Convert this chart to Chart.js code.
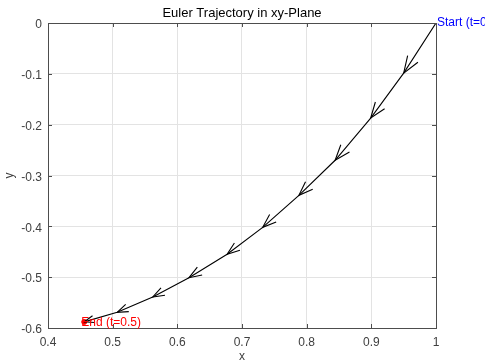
<!DOCTYPE html>
<html>
<head>
<meta charset="utf-8">
<script src="https://cdn.jsdelivr.net/npm/chart.js@4/dist/chart.umd.min.js"></script>
<style>
html,body{margin:0;padding:0;background:#fff;}
canvas{display:block;}
</style>
</head>
<body>
<canvas id="c" width="485" height="363"></canvas>
<script>
// Euler trajectory points (t = 0 .. 0.5, step 0.05)
const tValues = [0, 0.05, 0.1, 0.15, 0.2, 0.25, 0.3, 0.35, 0.4, 0.45, 0.5];
const xValues = [1.0, 0.950, 0.899, 0.844, 0.788, 0.732, 0.677, 0.618, 0.562, 0.507, 0.456];
const yValues = [0.0, -0.0985, -0.187, -0.270, -0.339, -0.402, -0.455, -0.501, -0.539, -0.569, -0.588];
const xTicks = [0.4, 0.5, 0.6, 0.7, 0.8, 0.9, 1];
const yTicks = [-0.6, -0.5, -0.4, -0.3, -0.2, -0.1, 0];
const titleText = 'Euler Trajectory in xy-Plane';
const xLabel = 'x';
const yLabel = 'y';
const startLabel = 'Start (t=0)';
const endLabel = 'End (t=0.5)';

const FONT = '"Liberation Sans", Arial, Helvetica, sans-serif';
const AXIS_COLOR = '#4d4d4d';
const TEXT_COLOR = '#404040';

const path = xValues.map((x, i) => ({x: x, y: yValues[i]}));
const last = path.length - 1;
const fmt = v => String(Number(Number(v).toFixed(2)));

const decor = {
  id: 'decor',
  afterDatasetsDraw(chart) {
    const ctx = chart.ctx;
    const xs = chart.scales.x, ys = chart.scales.y;
    ctx.save();
    ctx.strokeStyle = '#000';
    ctx.lineWidth = 1.1;
    for (let i = 0; i < last; i++) {
      const x0 = xs.getPixelForValue(xValues[i]), y0 = ys.getPixelForValue(yValues[i]);
      const x1 = xs.getPixelForValue(xValues[i + 1]), y1 = ys.getPixelForValue(yValues[i + 1]);
      const dx = x0 - x1, dy = y0 - y1;
      const len = Math.hypot(dx, dy);
      const ang = Math.atan2(dy, dx);
      const hl = 0.3 * len, spread = 20 * Math.PI / 180;
      ctx.beginPath();
      ctx.moveTo(x1 + hl * Math.cos(ang + spread), y1 + hl * Math.sin(ang + spread));
      ctx.lineTo(x1, y1);
      ctx.lineTo(x1 + hl * Math.cos(ang - spread), y1 + hl * Math.sin(ang - spread));
      ctx.stroke();
    }
    ctx.restore();
  },
  afterDraw(chart) {
    const ctx = chart.ctx;
    const a = chart.chartArea;
    const xs = chart.scales.x, ys = chart.scales.y;
    ctx.save();
    ctx.strokeStyle = AXIS_COLOR;
    ctx.lineWidth = 1;
    ctx.strokeRect(Math.round(a.left) + 0.5, Math.round(a.top) + 0.5, Math.round(a.right - a.left), Math.round(a.bottom - a.top));
    ctx.beginPath();
    xTicks.forEach(v => {
      const p = Math.round(xs.getPixelForValue(v)) + 0.5;
      ctx.moveTo(p, a.bottom); ctx.lineTo(p, a.bottom - 4);
      ctx.moveTo(p, a.top); ctx.lineTo(p, a.top + 4);
    });
    yTicks.forEach(v => {
      const p = Math.round(ys.getPixelForValue(v)) + 0.5;
      ctx.moveTo(a.left, p); ctx.lineTo(a.left + 4, p);
      ctx.moveTo(a.right, p); ctx.lineTo(a.right - 4, p);
    });
    ctx.stroke();
    ctx.fillStyle = '#000';
    ctx.font = '13px ' + FONT;
    ctx.textAlign = 'center';
    ctx.textBaseline = 'alphabetic';
    ctx.fillText(titleText, (a.left + a.right) / 2, a.top - 6);
    ctx.fillStyle = TEXT_COLOR;
    ctx.font = '12px ' + FONT;
    ctx.textBaseline = 'middle';
    ctx.fillText(xLabel, (a.left + a.right) / 2, a.bottom + 29);
    ctx.save();
    ctx.translate(10, (a.top + a.bottom) / 2);
    ctx.rotate(-Math.PI / 2);
    ctx.fillText(yLabel, 0, 0);
    ctx.restore();
    ctx.textAlign = 'left';
    ctx.textBaseline = 'middle';
    ctx.font = '12px ' + FONT;
    ctx.fillStyle = '#0000ff';
    ctx.fillText(startLabel, xs.getPixelForValue(xValues[0]) + 1, ys.getPixelForValue(yValues[0]));
    ctx.fillStyle = '#ff0000';
    ctx.fillText(endLabel, xs.getPixelForValue(xValues[last]) - 3, ys.getPixelForValue(yValues[last]) + 1);
    ctx.restore();
  }
};

new Chart(document.getElementById('c'), {
  type: 'scatter',
  data: {
    datasets: [
      {
        label: 'trajectory',
        data: path,
        showLine: true,
        borderColor: '#000',
        borderWidth: 1.1,
        pointRadius: 0,
        tension: 0,
        order: 1
      },
      {
        label: 'end',
        data: [path[last]],
        pointRadius: 2.5,
        pointBackgroundColor: '#ff0000',
        pointBorderColor: '#ff0000',
        order: 2
      }
    ]
  },
  options: {
    responsive: false,
    animation: false,
    devicePixelRatio: 1,
    layout: {padding: {top: 23, right: 49, left: 0, bottom: 0}},
    plugins: {legend: {display: false}, tooltip: {enabled: false}, title: {display: false}},
    scales: {
      x: {
        type: 'linear', min: 0.4, max: 1,
        afterBuildTicks: s => { s.ticks = xTicks.map(v => ({value: v})); },
        ticks: {color: TEXT_COLOR, font: {family: FONT, size: 12}, padding: 7, maxRotation: 0, callback: fmt},
        grid: {color: '#e3e3e3', drawTicks: false},
        border: {display: false},
        afterFit: s => { s.height = 35; }
      },
      y: {
        type: 'linear', min: -0.6, max: 0,
        afterBuildTicks: s => { s.ticks = yTicks.map(v => ({value: v})); },
        ticks: {color: TEXT_COLOR, font: {family: FONT, size: 12}, padding: 6, labelOffset: 2, callback: fmt},
        grid: {color: '#e3e3e3', drawTicks: false},
        border: {display: false},
        afterFit: s => { s.width = 48; }
      }
    }
  },
  plugins: [decor]
});
</script>
</body>
</html>
